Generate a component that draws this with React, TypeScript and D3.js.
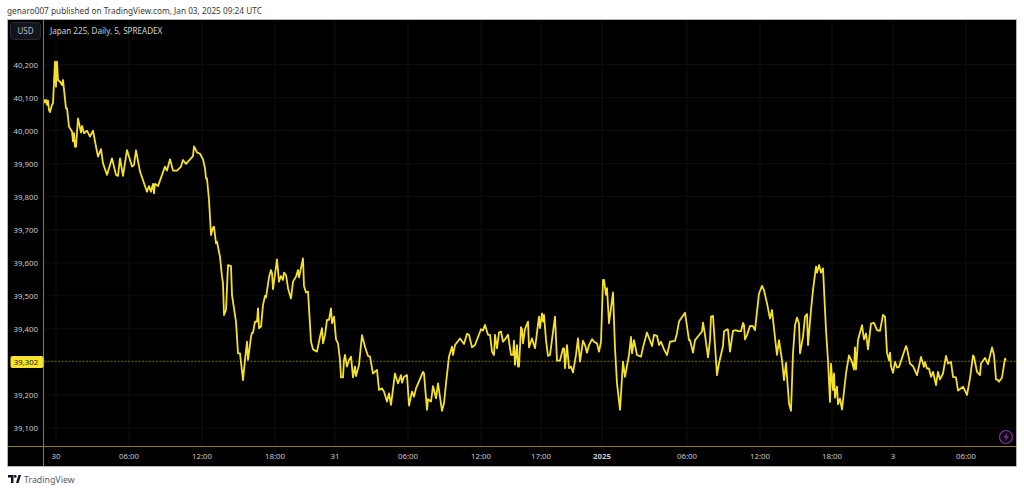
import React from "react";
import * as d3 from "d3";

const bars = [0,1,2,3,4,5,6,8,9,11,12,13,14,16,18,19,22,23,25,28,29,30,31,32,34,37,38,40,43,46,49,51,54,57,59,63,68,72,74,76,79,83,88,90,92,96,103,105,107,109,110,111,114,121,123,126,129,133,137,139,142,149,150,153,156,159,161,162,163,165,167,169,170,172,173,176,178,179,180,182,184,187,188,192,194,196,199,201,203,204,207,208,209,211,213,214,215,217,219,221,222,225,227,228,229,233,235,237,239,240,242,244,247,249,252,254,255,259,260,262,264,267,269,273,276,278,279,281,283,285,287,288,290,292,294,296,297,299,300,301,303,305,307,309,311,312,315,318,321,324,326,328,329,333,335,338,340,343,345,347,351,354,357,358,360,363,365,368,370,372,379,380,383,384,387,389,392,394,398,400,402,405,408,409,411,416,420,423,425,428,431,437,439,441,444,446,448,450,451,453,455,457,459,461,464,467,469,470,471,473,474,475,477,478,479,481,484,485,488,491,495,496,498,499,500,502,504,506,511,513,516,519,520,521,523,525,527,529,532,534,536,539,541,543,545,548,550,553,555,557,559,560,562,563,565,569,571,573,576,579,581,585,587,588,590,593,597,599,603,608,610,613,615,617,620,623,626,631,633,635,641,645,646,649,651,658,659,661,664,666,667,669,673,675,679,680,683,684,686,689,692,694,697,699,700,701,703,706,709,711,713,715,718,720,723,726,728,732,733,735,738,740,742,745,747,749,751,753,755,756,759,761,763,764,767,769,772,773,775,777,779,782,784,786,787,789,790,791,793,794,796,798,802,805,808,810,811,812,814,818,820,822,824,827,830,833,836,839,841,843,845,846,847,849,851,853,855,862,863,866,869,873,877,880,881,883,885,887,889,892,894,896,899,902,904,907,909,912,914,919,923,926,929,930,933,936,937,941,944,948,950,952,954,955,958,961,962];

const prices = [40094,40085,40093,40078,40091,40062,40056,40078,40083,40209,40133,40209,40153,40148,40138,40153,40067,40067,40012,39997,39967,39992,39951,39951,40037,39994,40014,39992,40000,39982,40000,39967,39921,39944,39901,39866,39916,39866,39863,39916,39863,39941,39891,39896,39940,39876,39815,39832,39815,39839,39810,39839,39832,39891,39879,39913,39879,39879,39891,39911,39899,39923,39952,39934,39930,39913,39886,39855,39855,39790,39684,39707,39709,39659,39664,39618,39558,39538,39442,39457,39593,39590,39502,39422,39326,39326,39245,39306,39361,39306,39376,39388,39388,39422,39422,39462,39402,39407,39472,39500,39495,39556,39578,39568,39520,39610,39543,39560,39548,39570,39563,39523,39492,39543,39558,39578,39556,39613,39530,39510,39513,39361,39338,39331,39376,39402,39356,39381,39427,39427,39462,39417,39437,39368,39356,39306,39253,39253,39306,39321,39286,39306,39316,39253,39286,39257,39291,39381,39346,39318,39316,39281,39265,39276,39215,39220,39210,39180,39205,39170,39265,39235,39260,39237,39255,39260,39168,39210,39195,39220,39270,39265,39155,39187,39180,39227,39190,39235,39152,39175,39235,39316,39346,39321,39351,39371,39354,39385,39382,39344,39351,39399,39395,39412,39382,39382,39331,39321,39382,39341,39389,39392,39361,39368,39382,39321,39321,39364,39291,39351,39286,39286,39405,39399,39356,39399,39422,39344,39371,39341,39437,39402,39447,39422,39442,39366,39318,39321,39437,39304,39304,39341,39341,39281,39351,39281,39286,39268,39321,39371,39301,39364,39351,39328,39351,39369,39361,39356,39331,39361,39548,39548,39503,39523,39417,39510,39341,39235,39155,39301,39255,39321,39376,39326,39366,39321,39316,39344,39389,39348,39382,39379,39351,39361,39338,39321,39361,39364,39387,39422,39449,39366,39366,39328,39366,39392,39419,39382,39314,39366,39437,39439,39260,39296,39348,39392,39399,39397,39331,39394,39396,39393,39393,39418,39411,39368,39381,39409,39408,39396,39452,39507,39530,39517,39477,39431,39457,39346,39321,39366,39305,39245,39297,39174,39152,39326,39411,39434,39416,39326,39376,39437,39445,39351,39457,39517,39588,39570,39593,39570,39583,39396,39305,39179,39295,39215,39265,39192,39225,39172,39189,39156,39265,39320,39300,39277,39344,39277,39366,39411,39368,39386,39338,39416,39418,39396,39394,39442,39437,39328,39305,39328,39287,39267,39300,39283,39285,39348,39341,39295,39287,39260,39315,39285,39300,39280,39280,39255,39270,39230,39270,39247,39265,39318,39295,39300,39255,39253,39213,39225,39200,39250,39320,39315,39270,39260,39295,39312,39293,39344,39320,39247,39245,39240,39253,39310,39304];

const timeTickBars = [12,85,158,231,291,364,437,497,558,643,716,788,849,922];
const timeTickLabels = ["30","06:00","12:00","18:00","31","06:00","12:00","17:00","2025","06:00","12:00","18:00","3","06:00"];
const priceTicks = [40200,40100,40000,39900,39800,39700,39600,39500,39400,39300,39200,39100];
const lastPrice = 39302;

const W = 1024, H = 491;
const FONT = "'Noto Sans', sans-serif";

export default function App() {
  const x = d3.scaleLinear().domain([0, 962]).range([44, 1006]);
  const y = d3.scaleLinear().domain([39100, 40200]).range([428, 64.5]);
  const points = bars.map((b, i) => [b, prices[i]] as [number, number]);
  const line = d3.line<[number, number]>().x(d => x(d[0])).y(d => y(d[1]));
  const fmt = d3.format(",");
  return (
    <svg width={W} height={H} style={{ position: "absolute", left: 0, top: 0, display: "block", background: "#fff" }} fontFamily={FONT}>
      <text x={7} y={14} fontSize={8.25} fill="#3a3a3a">genaro007 published on TradingView.com, Jan 03, 2025 09:24 UTC</text>
      <rect x={7.5} y={19.5} width={1009} height={447} fill="#000" stroke="#b5b5b5" strokeWidth={1} />
      {priceTicks.map(t => (
        <line key={t} x1={44} x2={1016} y1={y(t)} y2={y(t)} stroke="#0f0f07" />
      ))}
      {timeTickBars.map((b, i) => (
        <line key={i} x1={x(b)} x2={x(b)} y1={20} y2={446} stroke="#0f0f07" />
      ))}
      <line x1={44} x2={1016} y1={y(lastPrice)} y2={y(lastPrice)} stroke="#8c7f1c" strokeDasharray="2 1.5" strokeWidth={0.8} />
      <path d={line(points) ?? ""} fill="none" stroke="#f5e02a" strokeWidth={1.8} strokeLinejoin="round" />
      <line x1={43.5} x2={43.5} y1={20} y2={466} stroke="#8f7f12" />
      <line x1={8} x2={1016} y1={446.5} y2={446.5} stroke="#8f7f12" />
      {priceTicks.filter(t => t !== 39300).map(t => (
        <text key={t} x={38} y={y(t) + 3} fontSize={7.8} fill="#c8c8c8" textAnchor="end">{fmt(t)}</text>
      ))}
      {timeTickBars.map((b, i) => (
        <text key={i} x={x(b)} y={459} fontSize={7.8} fontWeight={timeTickLabels[i] === "2025" ? 700 : 400} fill="#c8c8c8" textAnchor="middle">{timeTickLabels[i]}</text>
      ))}
      <rect x={10.5} y={22.5} width={30} height={17} rx={3} fill="#12151c" stroke="#262a34" />
      <text x={25.5} y={33.8} fontSize={8} fill="#b8bcc4" textAnchor="middle">USD</text>
      <text x={50} y={33.8} fontSize={8.1} fill="#d0d0d0">Japan 225, Daily, 5, SPREADEX</text>
      <rect x={10.5} y={356} width={33} height={12} rx={2} fill="#f7e22c" />
      <text x={26} y={364.8} fontSize={7.8} fill="#222" textAnchor="middle">{fmt(lastPrice)}</text>
      <circle cx={1006} cy={437} r={6.5} fill="#120518" stroke="#7a3a98" strokeWidth={1.2} />
      <path d="M1007.5 432.5 L1003.5 437.6 L1006 437.6 L1004.8 441.5 L1008.7 436.2 L1006.2 436.2 Z" fill="#7a3a98" />
      <g fill="#131722">
        <path d="M8 475 H13.5 V483 H11 V477.6 H8 Z" />
        <circle cx={15.2} cy={476.4} r={1.4} />
        <path d="M16 483 L18.4 475 H21 L18.6 483 Z" />
      </g>
      <text x={24} y={482.5} fontSize={8.8} fill="#555b66">TradingView</text>
    </svg>
  );
}
